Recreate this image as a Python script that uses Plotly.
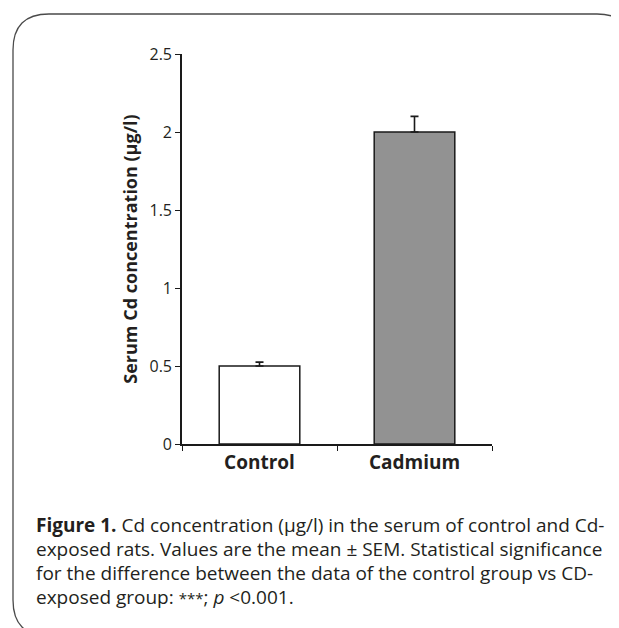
import plotly.graph_objects as go

# ---- data ----
categories = ["Control", "Cadmium"]
means = [0.5, 2.0]
sem = [0.025, 0.1]
bar_colors = ["#ffffff", "#929292"]
y_tickvals = [0, 0.5, 1, 1.5, 2, 2.5]
y_ticktext = ["0", "0.5", "1", "1.5", "2", "2.5"]
y_title = "Serum Cd concentration (µg/l)"
caption_lines = [
    "<b>Figure 1.</b> Cd concentration (µg/l) in the serum of control and Cd-",
    "exposed rats. Values are the mean ± SEM. Statistical significance",
    "for the difference between the data of the control group vs CD-",
    "exposed group: <span style='font-size:15px'>***</span>; <i>p</i> <0.001.",
]

# page has an 8px body margin; work in page pixels and offset
OFF = 8
W, H = 619 - OFF, 628 - OFF
L, R, T, B = 182 - OFF, 492 - OFF, 54 - OFF, 444 - OFF
TXT = "#231f20"
FONT = "Open Sans"


def px(x):
    return (x - OFF - L) / (R - L)


def py(y):
    return (B - (y - OFF)) / (B - T)


fig = go.Figure()
fig.add_trace(go.Bar(
    x=categories,
    y=means,
    width=0.52,
    marker=dict(color=bar_colors, line=dict(color="#1a1a1a", width=1.5)),
    error_y=dict(type="data", symmetric=False, array=sem,
                 arrayminus=[0] * len(sem), color="#1a1a1a",
                 thickness=1.6, width=4),
    showlegend=False,
))

# rounded frame (decoration), page pixel coords
x0, y0, x1, y1, r = 13, 14, 633, 636, 36
path = (
    f"M {px(x0+r)},{py(y0)} L {px(x1-r)},{py(y0)} "
    f"Q {px(x1)},{py(y0)} {px(x1)},{py(y0+r)} "
    f"L {px(x1)},{py(y1-r)} Q {px(x1)},{py(y1)} {px(x1-r)},{py(y1)} "
    f"L {px(x0+r)},{py(y1)} Q {px(x0)},{py(y1)} {px(x0)},{py(y1-r)} "
    f"L {px(x0)},{py(y0+r)} Q {px(x0)},{py(y0)} {px(x0+r)},{py(y0)} Z"
)
shapes = [dict(type="path", xref="paper", yref="paper", path=path,
               line=dict(color="#4a4a4a", width=1.3), layer="below")]

annotations = []
line_y = [525, 549, 573, 597]
for txt, yy in zip(caption_lines, line_y):
    annotations.append(dict(
        text=txt, xref="paper", yref="paper", x=px(34), y=py(yy),
        xanchor="left", yanchor="middle", showarrow=False,
        font=dict(family=FONT, size=19, color=TXT), align="left"))

fig.update_layout(
    width=W, height=H,
    margin=dict(l=L, r=W - R, t=T, b=H - B),
    paper_bgcolor="white", plot_bgcolor="white",
    font=dict(family=FONT, color=TXT),
    shapes=shapes,
    annotations=annotations,
    xaxis=dict(
        range=[-0.5, 1.5], showline=True, linecolor="#1a1a1a", linewidth=1.6,
        ticks="outside", tickson="boundaries", ticklen=5, tickwidth=1.4,
        tickcolor="#1a1a1a", showgrid=False, zeroline=False,
        tickfont=dict(family=FONT, size=19, color=TXT, weight="bold"),
    ),
    yaxis=dict(
        range=[0, 2.5], tickvals=y_tickvals, ticktext=y_ticktext,
        showline=True, linecolor="#1a1a1a", linewidth=1.6,
        ticks="outside", ticklen=5, tickwidth=1.4, tickcolor="#1a1a1a",
        showgrid=False, zeroline=False,
        tickfont=dict(family=FONT, size=16, color=TXT),
        title=dict(text="<b>" + y_title + "</b>", standoff=7,
                   font=dict(family=FONT, size=18, color=TXT)),
    ),
)

fig.write_html("out.html")
